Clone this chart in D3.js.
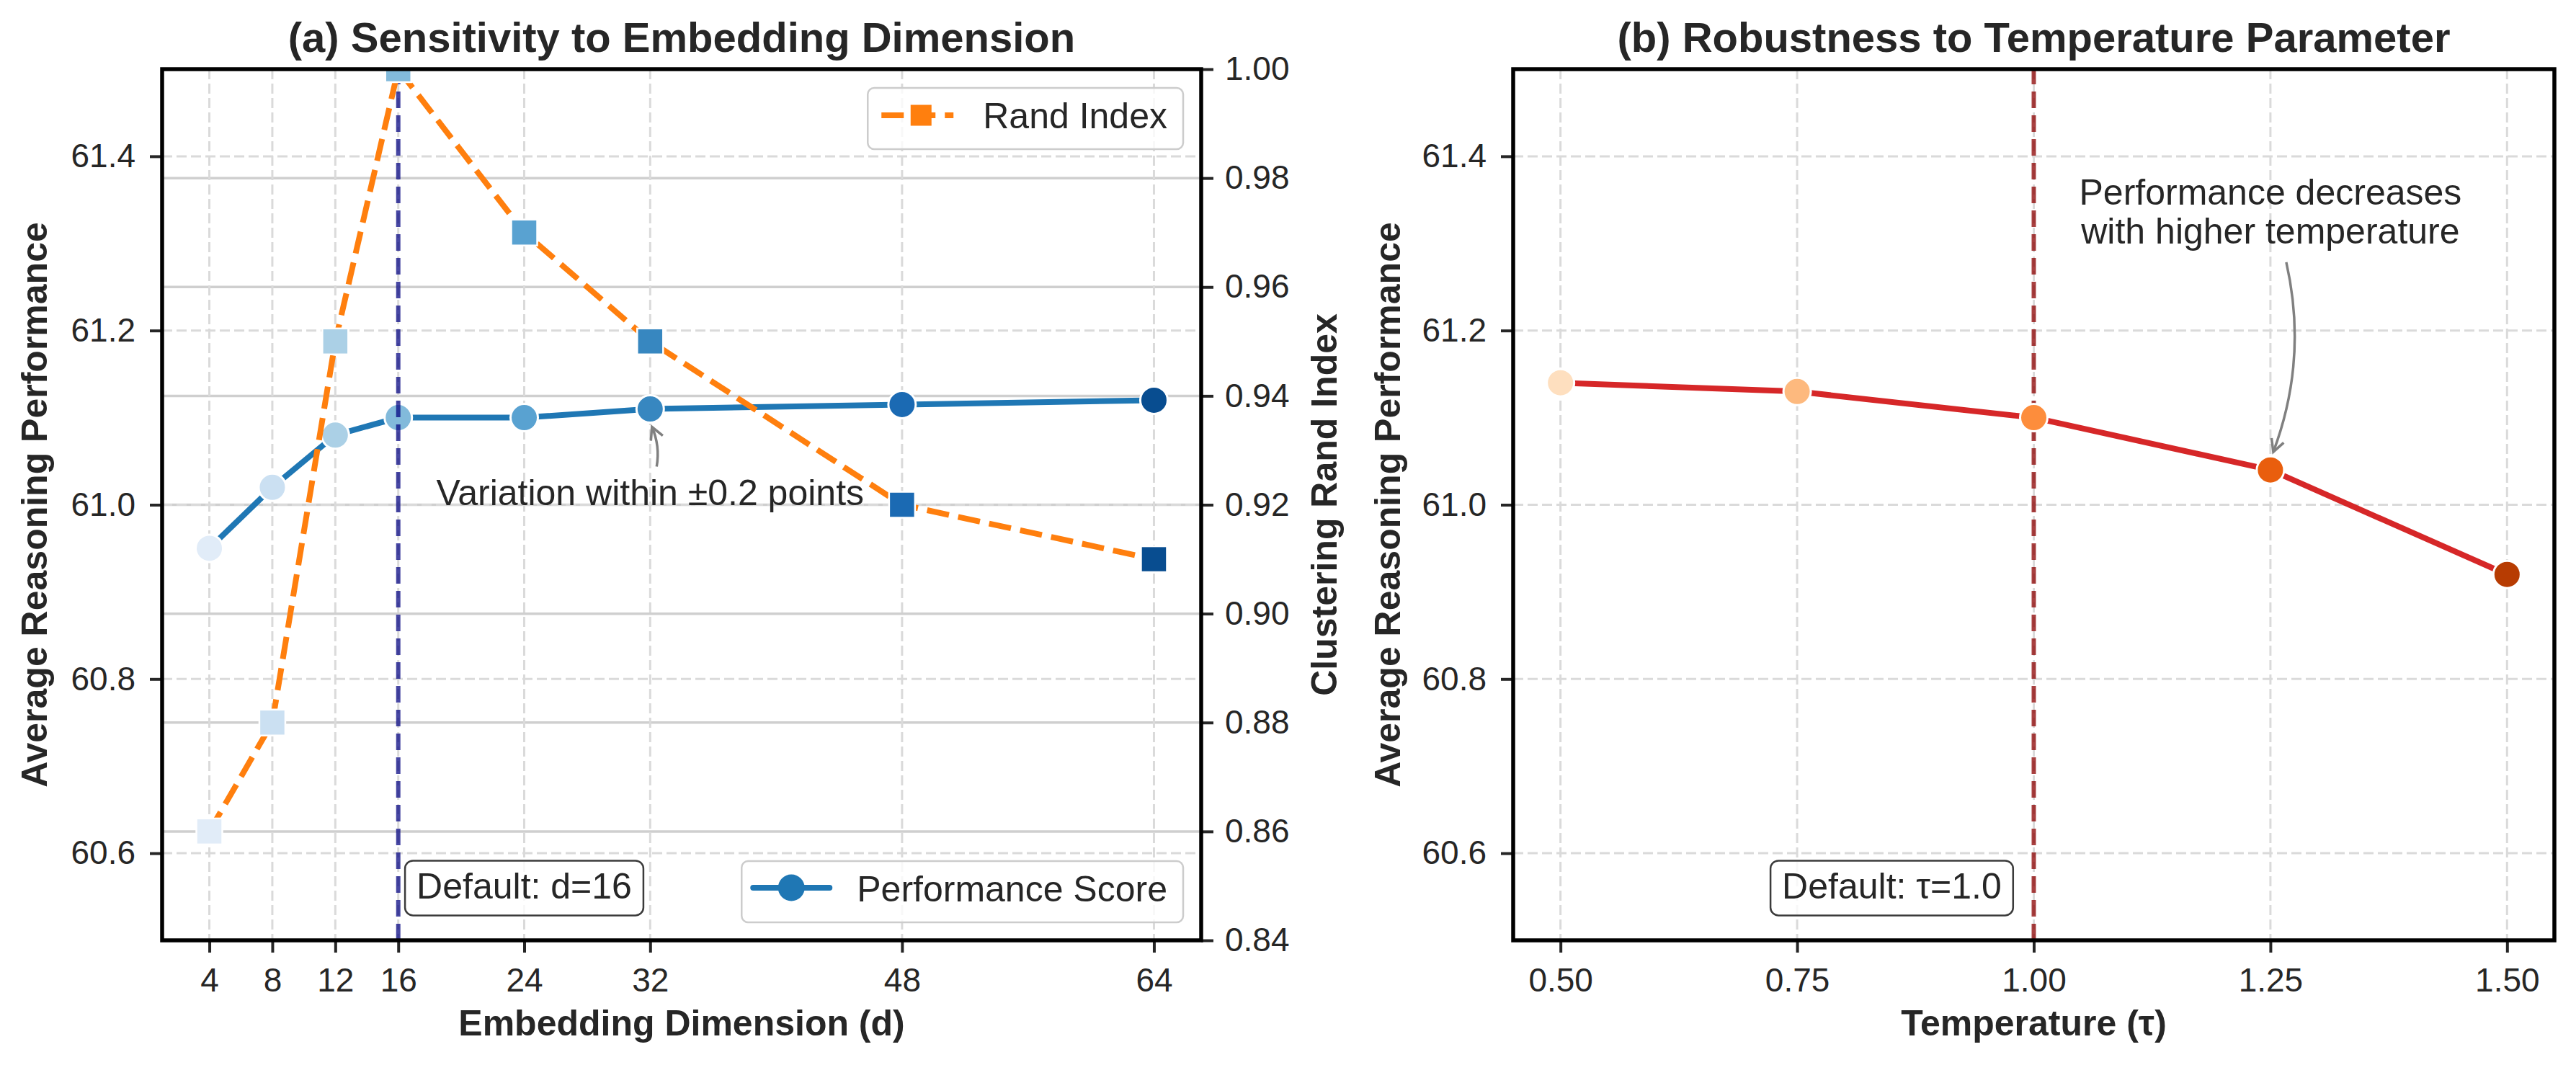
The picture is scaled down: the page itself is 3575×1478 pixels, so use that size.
<!DOCTYPE html>
<html>
<head>
<meta charset="utf-8">
<script src="https://cdn.jsdelivr.net/npm/d3@7"></script>
<style>
  body { margin: 0; background: #fff; }
  text { font-family: "Liberation Sans", Arial, sans-serif; fill: #262626; }
</style>
</head>
<body>
<svg id="chart"></svg>
<script>
// ---- data ----
var dims = [4, 8, 12, 16, 24, 32, 48, 64];
var perfScore = [60.95, 61.02, 61.08, 61.10, 61.10, 61.11, 61.115, 61.12];
var randIndex = [0.86, 0.88, 0.95, 1.00, 0.97, 0.95, 0.92, 0.91];

var temps = [0.50, 0.75, 1.00, 1.25, 1.50];
var tempPerf = [61.14, 61.13, 61.10, 61.04, 60.92];

var perfTicks = [60.6, 60.8, 61.0, 61.2, 61.4];
var randTicks = [0.84, 0.86, 0.88, 0.90, 0.92, 0.94, 0.96, 0.98, 1.00];
var randGrid = [0.86, 0.88, 0.90, 0.92, 0.94, 0.96, 0.98];

var blues = ["#e1ecf8", "#cbe0f2", "#abd0e6", "#82badb", "#59a2d1", "#3787c0", "#1b6ab3", "#084d90"];
var oranges = ["#fedfbf", "#fdb97e", "#fd8d3c", "#e95e0d", "#b73c02"];

var W = 3575, H = 1478;
var ink = "#262626";
var noteSize = 50;
var svg = d3.select("#chart").attr("width", W).attr("height", H);
svg.append("rect").attr("width", W).attr("height", H).attr("fill", "#fff");

var boxA = {l: 225, r: 1667, t: 96, b: 1305};
var boxB = {l: 2100, r: 3545, t: 96, b: 1305};

var xA = d3.scaleLinear().domain([1, 67]).range([boxA.l, boxA.r]);
var yA = d3.scaleLinear().domain([60.5, 61.5]).range([boxA.b, boxA.t]);
var yA2 = d3.scaleLinear().domain([0.84, 1.00]).range([boxA.b, boxA.t]);
var xB = d3.scaleLinear().domain([0.45, 1.55]).range([boxB.l, boxB.r]);
var yB = d3.scaleLinear().domain([60.5, 61.5]).range([boxB.b, boxB.t]);

function clip(id, box) {
  svg.append("clipPath").attr("id", id).append("rect")
    .attr("x", box.l).attr("y", box.t).attr("width", box.r - box.l).attr("height", box.b - box.t);
}
clip("clipA", boxA);
clip("clipB", boxB);

function hGrid(g, ticks, y, box, dashed) {
  g.selectAll(null).data(ticks).enter().append("line")
    .attr("x1", box.l).attr("x2", box.r)
    .attr("y1", function(d) { return y(d); }).attr("y2", function(d) { return y(d); })
    .attr("stroke", dashed ? "#dadada" : "#cfcfcf")
    .attr("stroke-width", dashed ? 3 : 3.5)
    .attr("stroke-dasharray", dashed ? "14,6" : null);
}
function vGrid(g, ticks, x, box) {
  g.selectAll(null).data(ticks).enter().append("line")
    .attr("y1", box.t).attr("y2", box.b)
    .attr("x1", function(d) { return x(d); }).attr("x2", function(d) { return x(d); })
    .attr("stroke", "#dadada").attr("stroke-width", 3).attr("stroke-dasharray", "14,6");
}

function arrow(g, x0, y0, x1, y1, bend) {
  var mx = (x0 + x1) / 2, my = (y0 + y1) / 2, dx = x1 - x0, dy = y1 - y0;
  var cx = mx + bend * dy, cy = my - bend * dx;
  g.append("path").attr("d", "M" + x0 + "," + y0 + "Q" + cx + "," + cy + " " + x1 + "," + y1)
    .attr("fill", "none").attr("stroke", "#808080").attr("stroke-width", 3.5);
  var a = Math.atan2(y1 - cy, x1 - cx), hl = 17, hw = 9;
  var bx = x1 - hl * Math.cos(a), by = y1 - hl * Math.sin(a);
  g.append("path")
    .attr("d", "M" + (bx - hw * Math.sin(a)) + "," + (by + hw * Math.cos(a)) +
               "L" + x1 + "," + y1 +
               "L" + (bx + hw * Math.sin(a)) + "," + (by - hw * Math.cos(a)))
    .attr("fill", "none").attr("stroke", "#808080").attr("stroke-width", 3.5)
    .attr("stroke-linejoin", "miter");
}

function textBox(g, cx, cy, label) {
  var b = g.append("g");
  var r = b.append("rect");
  var t = b.append("text").attr("x", cx).attr("y", cy + 15).attr("text-anchor", "middle")
    .attr("font-size", noteSize).text(label);
  var len = t.node().getComputedTextLength();
  r.attr("x", cx - len / 2 - 16).attr("y", cy - 38).attr("width", len + 32).attr("height", 76)
    .attr("rx", 11).attr("fill", "#fff").attr("fill-opacity", 0.8)
    .attr("stroke", "#262626").attr("stroke-opacity", 0.9).attr("stroke-width", 2.5);
}

function legend(g, right, top, label, drawHandle) {
  var lg = g.append("g");
  var r = lg.append("rect");
  var t = lg.append("text").attr("font-size", noteSize).text(label);
  var len = t.node().getComputedTextLength();
  var w = 160 + len + 22, x0 = right - w;
  r.attr("x", x0).attr("y", top).attr("width", w).attr("height", 85).attr("rx", 9)
    .attr("fill", "#fff").attr("fill-opacity", 0.8).attr("stroke", "#cccccc").attr("stroke-width", 2.5);
  t.attr("x", x0 + 160).attr("y", top + 56);
  drawHandle(lg, x0, top + 40);
}

function yAxisLeft(g, y, box) {
  return g.append("g").attr("transform", "translate(" + box.l + ",0)")
    .call(d3.axisLeft(y).tickValues(perfTicks).tickFormat(d3.format(".1f")).tickSize(17).tickPadding(20));
}
function styleAxis(ax) {
  ax.select(".domain").remove();
  ax.selectAll(".tick line").attr("stroke", ink).attr("stroke-width", 4);
  ax.selectAll(".tick text").attr("font-size", 46).attr("fill", ink)
    .attr("font-family", '"Liberation Sans", Arial, sans-serif');
}

// ================= panel (a) =================
var gA = svg.append("g");
hGrid(gA, randGrid, yA2, boxA, false);
hGrid(gA, perfTicks, yA, boxA, true);
vGrid(gA, dims, xA, boxA);

var plotA = gA.append("g").attr("clip-path", "url(#clipA)");
var lineA = d3.line().x(function(d, i) { return xA(dims[i]); }).y(function(d) { return yA(d); });
plotA.append("path").datum(perfScore).attr("d", lineA)
  .attr("fill", "none").attr("stroke", "#1f77b4").attr("stroke-width", 8)
  .attr("stroke-linejoin", "round").attr("stroke-linecap", "round");
plotA.selectAll(null).data(perfScore).enter().append("circle")
  .attr("cx", function(d, i) { return xA(dims[i]); })
  .attr("cy", function(d) { return yA(d); })
  .attr("r", 19).attr("fill", function(d, i) { return blues[i]; })
  .attr("stroke", "#fff").attr("stroke-width", 3);

// default marker line
gA.append("line").attr("x1", xA(16)).attr("x2", xA(16)).attr("y1", boxA.b).attr("y2", boxA.t)
  .attr("stroke", "#000080").attr("stroke-opacity", 0.72).attr("stroke-width", 6)
  .attr("stroke-dasharray", "23,10");

// annotation
gA.append("text").attr("x", xA(32)).attr("y", yA(61.0)).attr("text-anchor", "middle")
  .attr("font-size", noteSize).text("Variation within \u00b10.2 points");
arrow(gA, xA(32) + 9, yA(61.0) - 53, xA(32) + 2.5, yA(61.11) + 25, -0.15);

textBox(gA, xA(24), yA(60.56), "Default: d=16");

legend(gA, boxA.r - 25, boxA.b - 25 - 85, "Performance Score", function(lg, x0, cy) {
  lg.append("line").attr("x1", x0 + 16).attr("x2", x0 + 122).attr("y1", cy - 3).attr("y2", cy - 3)
    .attr("stroke", "#1f77b4").attr("stroke-width", 8).attr("stroke-linecap", "round");
  lg.append("circle").attr("cx", x0 + 69).attr("cy", cy - 3).attr("r", 18.5).attr("fill", "#1f77b4");
});

// secondary axis content (twin axes drawn on top)
var plotA2 = gA.append("g").attr("clip-path", "url(#clipA)");
var lineA2 = d3.line().x(function(d, i) { return xA(dims[i]); }).y(function(d) { return yA2(d); });
plotA2.append("path").datum(randIndex).attr("d", lineA2)
  .attr("fill", "none").attr("stroke", "#ff7f0e").attr("stroke-width", 8)
  .attr("stroke-dasharray", "31,13");
plotA2.selectAll(null).data(randIndex).enter().append("rect")
  .attr("x", function(d, i) { return xA(dims[i]) - 18; })
  .attr("y", function(d) { return yA2(d) - 18; })
  .attr("width", 36).attr("height", 36)
  .attr("fill", function(d, i) { return blues[i]; })
  .attr("stroke", "#fff").attr("stroke-width", 2.5);

legend(gA, boxA.r - 25, boxA.t + 26, "Rand Index", function(lg, x0, cy) {
  lg.append("line").attr("x1", x0 + 19).attr("x2", x0 + 119).attr("y1", cy - 2).attr("y2", cy - 2)
    .attr("stroke", "#ff7f0e").attr("stroke-width", 8).attr("stroke-dasharray", "31,13");
  lg.append("rect").attr("x", x0 + 74 - 14.5).attr("y", cy - 2 - 14.5).attr("width", 29).attr("height", 29)
    .attr("fill", "#ff7f0e");
});

// axes of panel (a)
styleAxis(gA.append("g").attr("transform", "translate(0," + boxA.b + ")")
  .call(d3.axisBottom(xA).tickValues(dims).tickFormat(d3.format("d")).tickSize(17).tickPadding(21)));
styleAxis(yAxisLeft(gA, yA, boxA));
styleAxis(gA.append("g").attr("transform", "translate(" + boxA.r + ",0)")
  .call(d3.axisRight(yA2).tickValues(randTicks).tickFormat(d3.format(".2f")).tickSize(17).tickPadding(16)));
gA.append("rect").attr("x", boxA.l).attr("y", boxA.t).attr("width", boxA.r - boxA.l).attr("height", boxA.b - boxA.t)
  .attr("fill", "none").attr("stroke", "#000").attr("stroke-width", 5.5);

gA.append("text").attr("x", (boxA.l + boxA.r) / 2).attr("y", 72).attr("text-anchor", "middle")
  .attr("font-size", 58).attr("font-weight", "bold").text("(a) Sensitivity to Embedding Dimension");
gA.append("text").attr("x", (boxA.l + boxA.r) / 2).attr("y", 1437).attr("text-anchor", "middle")
  .attr("font-size", 50).attr("font-weight", "bold").text("Embedding Dimension (d)");
gA.append("text").attr("transform", "translate(65," + (boxA.t + boxA.b) / 2 + ") rotate(-90)")
  .attr("text-anchor", "middle").attr("font-size", 50).attr("font-weight", "bold")
  .text("Average Reasoning Performance");
gA.append("text").attr("transform", "translate(1855," + (boxA.t + boxA.b) / 2 + ") rotate(-90)")
  .attr("text-anchor", "middle").attr("font-size", 50).attr("font-weight", "bold")
  .text("Clustering Rand Index");

// ================= panel (b) =================
var gB = svg.append("g");
hGrid(gB, perfTicks, yB, boxB, true);
vGrid(gB, temps, xB, boxB);

gB.append("line").attr("x1", xB(1.0)).attr("x2", xB(1.0)).attr("y1", boxB.b).attr("y2", boxB.t)
  .attr("stroke", "#8b0000").attr("stroke-opacity", 0.75).attr("stroke-width", 6)
  .attr("stroke-dasharray", "23,10");

var plotB = gB.append("g").attr("clip-path", "url(#clipB)");
var lineB = d3.line().x(function(d, i) { return xB(temps[i]); }).y(function(d) { return yB(d); });
plotB.append("path").datum(tempPerf).attr("d", lineB)
  .attr("fill", "none").attr("stroke", "#d62728").attr("stroke-width", 8)
  .attr("stroke-linejoin", "round");
plotB.selectAll(null).data(tempPerf).enter().append("circle")
  .attr("cx", function(d, i) { return xB(temps[i]); })
  .attr("cy", function(d) { return yB(d); })
  .attr("r", 19).attr("fill", function(d, i) { return oranges[i]; })
  .attr("stroke", "#fff").attr("stroke-width", 3);

var noteX = xB(1.25), noteY = yB(61.3);
gB.append("text").attr("x", noteX).attr("y", noteY - 54).attr("text-anchor", "middle")
  .attr("font-size", noteSize).text("Performance decreases");
gB.append("text").attr("x", noteX).attr("y", noteY).attr("text-anchor", "middle")
  .attr("font-size", noteSize).text("with higher temperature");
arrow(gB, noteX + 22, noteY + 26, noteX + 4, yB(61.04) - 25, 0.15);

textBox(gB, xB(0.85), yB(60.56), "Default: \u03c4=1.0");

styleAxis(gB.append("g").attr("transform", "translate(0," + boxB.b + ")")
  .call(d3.axisBottom(xB).tickValues(temps).tickFormat(d3.format(".2f")).tickSize(17).tickPadding(21)));
styleAxis(yAxisLeft(gB, yB, boxB));
gB.append("rect").attr("x", boxB.l).attr("y", boxB.t).attr("width", boxB.r - boxB.l).attr("height", boxB.b - boxB.t)
  .attr("fill", "none").attr("stroke", "#000").attr("stroke-width", 5.5);

gB.append("text").attr("x", (boxB.l + boxB.r) / 2).attr("y", 72).attr("text-anchor", "middle")
  .attr("font-size", 58).attr("font-weight", "bold").text("(b) Robustness to Temperature Parameter");
gB.append("text").attr("x", (boxB.l + boxB.r) / 2).attr("y", 1437).attr("text-anchor", "middle")
  .attr("font-size", 50).attr("font-weight", "bold").text("Temperature (\u03c4)");
gB.append("text").attr("transform", "translate(1943," + (boxB.t + boxB.b) / 2 + ") rotate(-90)")
  .attr("text-anchor", "middle").attr("font-size", 50).attr("font-weight", "bold")
  .text("Average Reasoning Performance");
</script>
</body>
</html>
